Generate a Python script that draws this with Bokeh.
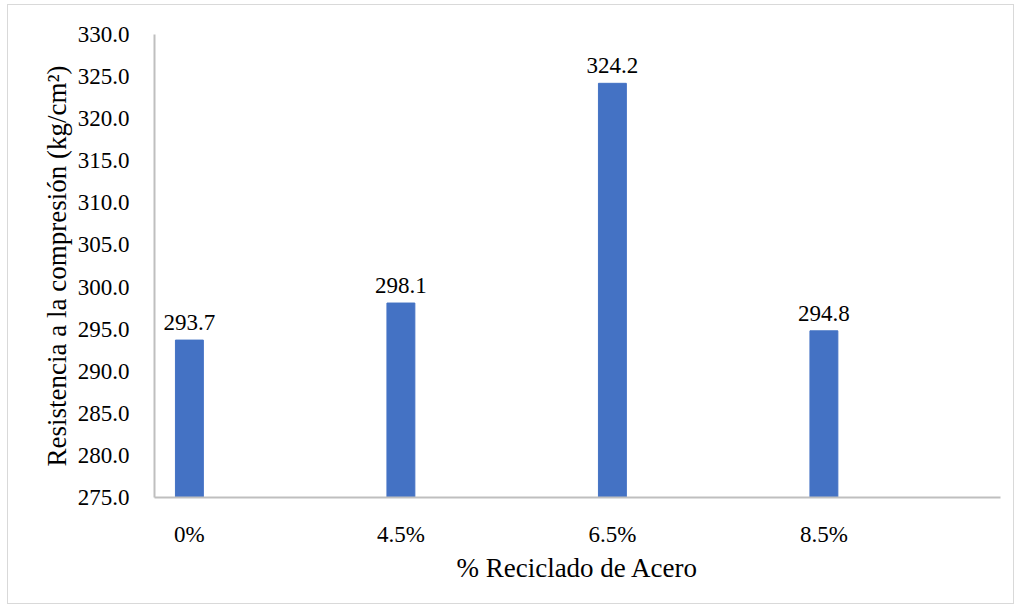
from bokeh.plotting import figure
from bokeh.models import Range1d, FixedTicker, ColumnDataSource, LabelSet
from bokeh.embed import file_html
from bokeh.resources import INLINE

# Compressive strength by steel recycled content
categories = ["0%", "4.5%", "6.5%", "8.5%"]
strength = [293.7, 298.1, 324.2, 294.8]
y_ticks = [275.0, 280.0, 285.0, 290.0, 295.0, 300.0, 305.0, 310.0, 315.0, 320.0, 325.0, 330.0]

FONT = "Liberation Serif"
BAR = "#4472C4"
AXIS = "#BFBFBF"

xs = list(range(len(categories)))
src = ColumnDataSource(dict(
    x=xs,
    y=strength,
    lbl=[f"{v:.1f}" for v in strength],
))

p = figure(
    width=1007, height=600,
    x_range=Range1d(-0.165, 3.835),
    y_range=Range1d(y_ticks[0], y_ticks[-1]),
    output_backend="svg", toolbar_location=None,
    min_border_left=146, min_border_right=15,
    min_border_top=29, min_border_bottom=108,
)
p.styles = {"margin-left": "7px", "margin-top": "4px", "border": "1px solid #D9D9D9"}

p.vbar(x="x", top="y", bottom=y_ticks[0], width=0.132, source=src,
       fill_color=BAR, line_color=BAR)

labels = LabelSet(x="x", y="y", text="lbl", source=src, text_align="center",
                  text_baseline="bottom", y_offset=10,
                  text_font=FONT, text_font_size="23px", text_color="#000000")
p.add_layout(labels)

p.xgrid.visible = False
p.ygrid.visible = False
p.outline_line_color = None

p.xaxis.ticker = FixedTicker(ticks=xs)
p.xaxis.major_label_overrides = {i: c for i, c in zip(xs, categories)}
p.yaxis.ticker = FixedTicker(ticks=y_ticks)
p.yaxis.major_label_overrides = {t: f"{t:.1f}" for t in y_ticks}

for ax in (p.xaxis, p.yaxis):
    ax.axis_line_color = AXIS
    ax.axis_line_width = 2
    ax.major_tick_line_color = None
    ax.minor_tick_line_color = None
    ax.major_label_text_font = FONT
    ax.major_label_text_font_size = "23px"
    ax.major_label_text_color = "#000000"
    ax.axis_label_text_font = FONT
    ax.axis_label_text_font_size = "27px"
    ax.axis_label_text_font_style = "normal"
    ax.axis_label_text_color = "#000000"

p.xaxis.major_label_standoff = 18
p.yaxis.major_label_standoff = 19
p.xaxis.axis_label = "% Reciclado de Acero"
p.xaxis.axis_label_standoff = 3
p.yaxis.axis_label = "Resistencia a la compresión (kg/cm²)"
p.yaxis.axis_label_standoff = 3

open("out.html", "w").write(file_html(p, INLINE))
